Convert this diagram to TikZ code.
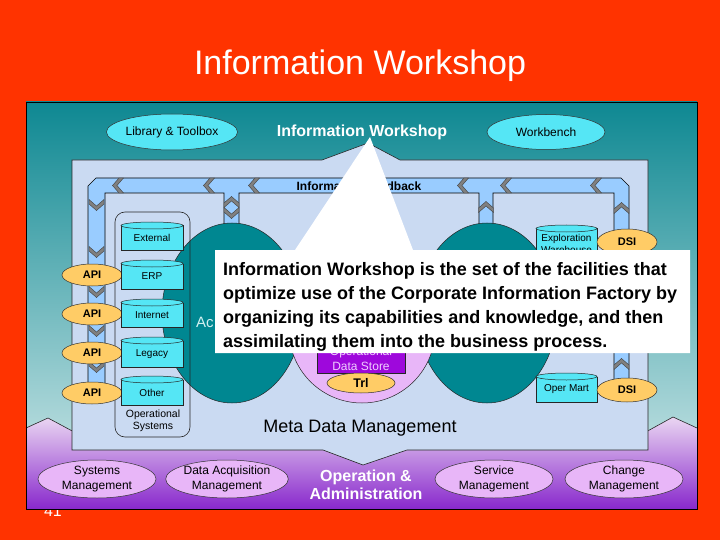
\documentclass[tikz,border=0pt]{standalone}
\usepackage{fontspec}
\setmainfont{Liberation Sans}
\usetikzlibrary{shapes.geometric}
\definecolor{bgred}{RGB}{255,51,0}
\definecolor{tealtop}{RGB}{14,136,146}
\definecolor{tealbot}{RGB}{215,236,236}
\definecolor{purtop}{RGB}{234,214,242}
\definecolor{purbot}{RGB}{136,40,204}
\definecolor{metac}{RGB}{202,218,242}
\definecolor{feedc}{RGB}{153,204,255}
\definecolor{chevgray}{RGB}{128,128,128}
\definecolor{cyanc}{RGB}{85,230,245}
\definecolor{orangec}{RGB}{255,204,102}
\definecolor{tealc}{RGB}{0,135,145}
\definecolor{lavc}{RGB}{232,182,248}
\definecolor{odsc}{RGB}{158,8,220}
\definecolor{odstext}{RGB}{240,205,255}
\definecolor{actext}{RGB}{210,240,240}
\newcommand\mycyl[6]{%
  \fill[cyanc] (#2,#3+3.5) rectangle (#4,#5);
  \draw[cyldraw] (#2,#3+3.5) -- (#2,#5) -- (#4,#5) -- (#4,#3+3.5);
  \filldraw[fill=cyanc, cyldraw] ({(#2+#4)/2},#3+3.5) ellipse [x radius={(#4-#2)/2*1pt}, y radius=3.5pt];
  \node[cyltext] (#1) at ({(#2+#4)/2},{(#3+#5)/2+2}) {#6};}
\tikzset{
  oval/.style={ellipse, draw=black!80, line width=0.5pt, inner sep=0pt},
  topoval/.style={oval, fill=cyanc, minimum width=118pt, minimum height=36pt, font=\fontsize{12}{14}\selectfont},
  apioval/.style={oval, fill=orangec, minimum width=60pt, minimum height=22pt, font=\bfseries\fontsize{11}{13}\selectfont},
  lavoval/.style={oval, fill=lavc, minimum width=118pt, minimum height=38pt, align=center, font=\fontsize{12}{14.5}\selectfont},
  tealoval/.style={ellipse, draw=black!85, line width=0.5pt, fill=tealc, minimum width=140pt, minimum height=180pt, inner sep=0pt},
  cyldraw/.style={draw=black!85, line width=0.5pt},
  cyltext/.style={align=center, inner sep=0pt, font=\fontsize{10}{12}\selectfont},
  chev/.pic={\filldraw[fill=chevgray, draw=black!75, line width=0.4pt] (2,-7.5) -- (-4.5,0) -- (2,7.5) -- (6.5,7.5) -- (0,0) -- (6.5,-7.5) -- cycle;},
  callout/.style={inner sep=0pt, anchor=base west, font=\bfseries\fontsize{18}{24}\selectfont},
}
\begin{document}
\begin{tikzpicture}[x=1pt,y=-1pt]
\useasboundingbox (0,0) rectangle (720,540);
\fill[bgred] (0,0) rectangle (720,540);
\node[text=white, font=\fontsize{34}{40}\selectfont] (title) at (360,66) {Information Workshop};
\node[text=white, font=\fontsize{16}{18}\selectfont] (pagenum) at (53,511) {41};
% panel
\shade[top color=tealtop, bottom color=tealbot] (26,102) rectangle (697,509);
\shade[top color=purtop, bottom color=purbot] (26,509) -- (26,428) -- (48,418) -- (76,433) -- (644,433) -- (673,417) -- (697,428) -- (697,509) -- cycle;
\draw[black!85, line width=0.6pt] (26,428) -- (48,418) -- (76,433);
\draw[black!85, line width=0.6pt] (644,433) -- (673,417) -- (697,428);
\draw[black, line width=0.8pt] (26,102) rectangle (697,509);
% meta data region
\filldraw[fill=metac, draw=black!85, line width=0.6pt] (72,160) -- (322,160) -- (368,143) -- (400,160) -- (648,160) -- (648,450) -- (407,450) -- (363,465) -- (323,450) -- (72,450) -- cycle;
% feedback channel
\filldraw[fill=feedc, draw=black, line width=0.6pt] (88,392) -- (88,186) -- (96,178) -- (621,178) -- (629,186) -- (629,392) -- (614,392) -- (614,193) -- (493,193) -- (493,226) -- (479,226) -- (479,193) -- (239,193) -- (239,226) -- (224,226) -- (224,193) -- (105,193) -- (105,392) -- cycle;
\foreach \cx in {117,208,253,462,505,595} \pic at (\cx,185.5) {chev};
\foreach \cy in {206,253,293,332,368} \pic[rotate=90] at (96.5,\cy) {chev};
\pic[rotate=-90] at (231.5,201) {chev};
\pic[rotate=90] at (231.5,214) {chev};
\pic[rotate=-90] at (486,206) {chev};
\pic[rotate=-90] at (621.5,207) {chev};
\pic[rotate=-90] at (621.5,363) {chev};
\node[font=\bfseries\fontsize{12}{14}\selectfont] (fbl) at (359,186.5) {Information Feedback};
% top
\node[topoval] (lib) at (172,132) {Library \& Toolbox};
\node[topoval, minimum height=35pt] (wb) at (546,132) {Workbench};
\node[text=white, font=\bfseries\fontsize{16}{18}\selectfont] (iwl) at (362,132) {Information Workshop};
% central ellipses
\node[tealoval] (acq) at (232,313) {};
\node[tealoval] (dlv) at (487,313) {};
\node[circle, draw=black!85, line width=0.5pt, fill=lavc, minimum size=146pt, inner sep=0pt] (odscirc) at (362,330) {};
\node[text=actext, anchor=west, inner sep=0pt, font=\fontsize{15}{17}\selectfont] (acqlbl) at (196,322) {Ac};
% operational systems
\node[draw=black!85, line width=0.6pt, rounded corners=10pt, minimum width=75pt, minimum height=225pt] (opsys) at (152.5,324.5) {};
\node[align=center, font=\fontsize{10.5}{12}\selectfont] (opsyslbl) at (153,421) {Operational\\Systems};
\node[apioval] (api1) at (92,275) {API};
\node[apioval] (api2) at (92,314) {API};
\node[apioval] (api3) at (92,353) {API};
\node[apioval] (api4) at (92,393) {API};
\mycyl{ext}{121}{222}{183}{250}{External}
\mycyl{erp}{121}{260}{183}{289}{ERP}
\mycyl{inet}{121}{299}{183}{327}{Internet}
\mycyl{leg}{121}{337}{183}{367}{Legacy}
\mycyl{oth}{121}{376}{183}{405}{Other}
% operational data store
\node[draw=black!85, line width=0.5pt, fill=odsc, minimum width=88pt, minimum height=38pt, inner sep=0pt] (ods) at (361,354) {};
\node[text=odstext, align=center, font=\fontsize{12}{15}\selectfont] (odslbl) at (361,359) {Operational\\Data Store};
\node[apioval, minimum width=68pt, minimum height=20pt, font=\bfseries\fontsize{12.5}{14}\selectfont] (trl) at (361,383) {Trl};
% right
\mycyl{expl}{536}{225}{597}{258}{Exploration\\Warehouse}
\node[apioval, minimum height=26pt] (dsi1) at (627,242) {DSI};
\mycyl{omart}{536}{373}{597}{402}{Oper Mart}
\node[apioval, minimum height=24pt] (dsi2) at (627,390) {DSI};
\node[font=\fontsize{18}{20}\selectfont] (meta) at (360,428) {Meta Data Management};
% bottom
\node[lavoval] (sysm) at (97,479) {Systems\\Management};
\node[lavoval] (dam) at (227,479) {Data Acquisition\\Management};
\node[text=white, align=center, font=\bfseries\fontsize{16}{18}\selectfont] (opadm) at (366,485) {Operation \&\\Administration};
\node[lavoval] (svm) at (494,479) {Service\\Management};
\node[lavoval] (chm) at (624,479) {Change\\Management};
% callout
\fill[white] (215,250) -- (295,250) -- (370,137) -- (413,250) -- (690,250) -- (690,353) -- (215,353) -- cycle;
\node[callout] (cl1) at (223,275) {Information Workshop is the set of the facilities that};
\node[callout] (cl2) at (223,299) {optimize use of the Corporate Information Factory by};
\node[callout] (cl3) at (223,323) {organizing its capabilities and knowledge, and then};
\node[callout] (cl4) at (223,347) {assimilating them into the business process.};
\end{tikzpicture}
\end{document}
